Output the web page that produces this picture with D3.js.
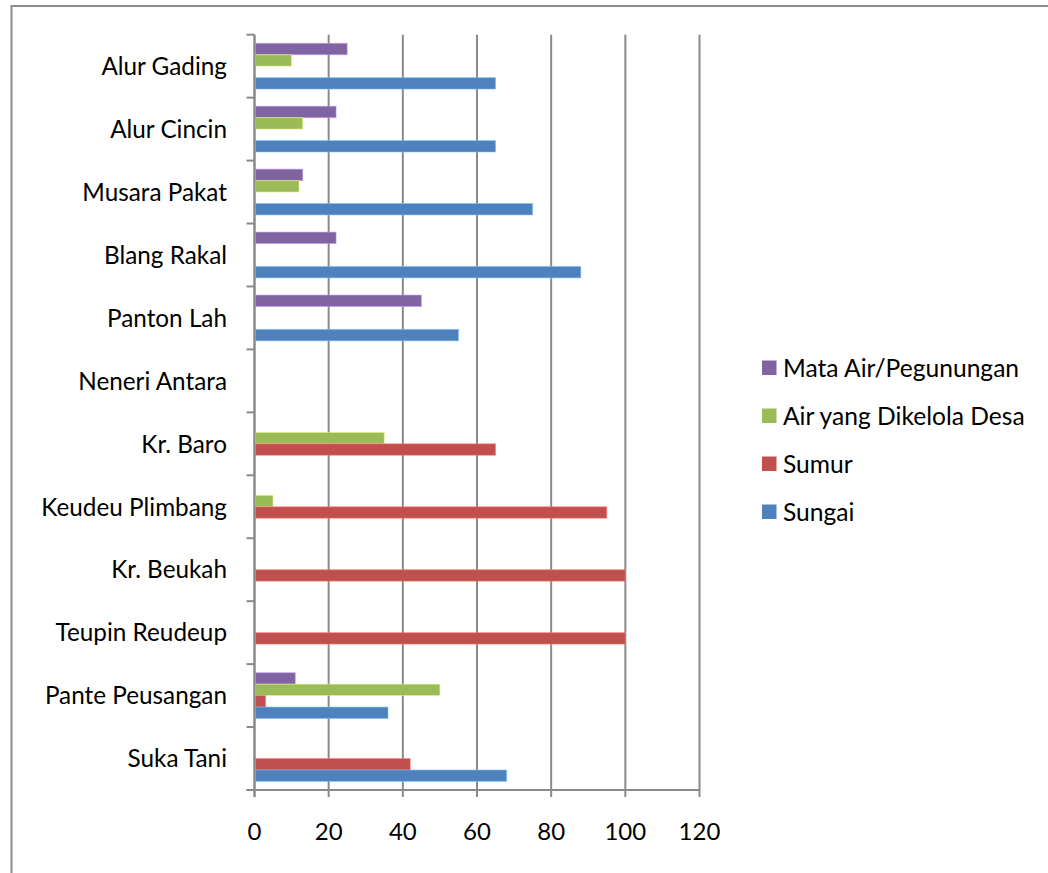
<!DOCTYPE html>
<html>
<head>
<meta charset="utf-8">
<script src="https://cdn.jsdelivr.net/npm/d3@7"></script>
<style>
  html, body { margin: 0; padding: 0; background: #fff; }
  svg { display: block; }
  text { font-family: Lato, "Open Sans", sans-serif; fill: #000; }
</style>
</head>
<body>
<svg id="chart" width="1048" height="873"></svg>
<script>
// Villages, listed top to bottom
const villages = [
  "Alur Gading", "Alur Cincin", "Musara Pakat", "Blang Rakal", "Panton Lah",
  "Neneri Antara", "Kr. Baro", "Keudeu Plimbang", "Kr. Beukah",
  "Teupin Reudeup", "Pante Peusangan", "Suka Tani"
];

// Water sources (legend order)
const sources = ["Mata Air/Pegunungan", "Air yang Dikelola Desa", "Sumur", "Sungai"];
const sourceColors = ["#8064A2", "#9BBB59", "#C0504D", "#4F81BD"];

// Percentage of households per source, one array per source, in village order
const mataAir   = [25, 22, 13, 22, 45, 0, 0, 0, 0, 0, 11, 0];
const airDesa   = [10, 13, 12, 0, 0, 0, 35, 5, 0, 0, 50, 0];
const sumur     = [0, 0, 0, 0, 0, 0, 65, 95, 100, 100, 3, 42];
const sungai    = [65, 65, 75, 88, 55, 0, 0, 0, 0, 0, 36, 68];

const xTicks = [0, 20, 40, 60, 80, 100, 120];

const seriesValues = [mataAir, airDesa, sumur, sungai];

const svg = d3.select("#chart");

// chart frame
svg.append("rect")
  .attr("x", 11.5).attr("y", 6)
  .attr("width", 1100).attr("height", 1000)
  .attr("fill", "none")
  .attr("stroke", "#8c8c8c")
  .attr("stroke-width", 2);

const plot = { left: 254.5, right: 699.5, top: 34.7, bottom: 790 };

const x = d3.scaleLinear().domain([0, 120]).range([plot.left, plot.right]);
const y = d3.scaleBand().domain(villages).range([plot.top, plot.bottom]).padding(0);
const yInner = d3.scaleBand().domain(sources).range([0, y.bandwidth()])
  .paddingInner(0).paddingOuter(0.75);

const gridColor = "#8a8a8a";

// vertical gridlines
svg.append("g")
  .selectAll("line")
  .data(xTicks)
  .join("line")
  .attr("x1", d => x(d)).attr("x2", d => x(d))
  .attr("y1", plot.top).attr("y2", plot.bottom + 7)
  .attr("stroke", gridColor)
  .attr("stroke-width", 2);

// category axis ticks (band boundaries)
const bounds = villages.map(v => y(v)).concat([plot.bottom]);
svg.append("g")
  .selectAll("line")
  .data(bounds)
  .join("line")
  .attr("x1", plot.left - 8).attr("x2", plot.left)
  .attr("y1", d => d).attr("y2", d => d)
  .attr("stroke", gridColor)
  .attr("stroke-width", 2);

// bars
const barData = [];
villages.forEach((v, i) => {
  sources.forEach((s, j) => {
    const val = seriesValues[j][i];
    if (val > 0) barData.push({ village: v, source: s, value: val, color: sourceColors[j] });
  });
});

svg.append("g")
  .selectAll("rect")
  .data(barData)
  .join("rect")
  .attr("x", x(0) + 1)
  .attr("y", d => y(d.village) + yInner(d.source))
  .attr("width", d => x(d.value) - x(0) - 1)
  .attr("height", yInner.bandwidth())
  .attr("fill", d => d.color)
  .attr("stroke", d => d3.color(d.color).brighter(1.2))
  .attr("stroke-opacity", 0.55)
  .attr("stroke-width", 1);

// axes lines
svg.append("line")
  .attr("x1", plot.left).attr("x2", plot.left)
  .attr("y1", plot.top).attr("y2", plot.bottom + 7)
  .attr("stroke", gridColor).attr("stroke-width", 2);
svg.append("line")
  .attr("x1", plot.left - 8).attr("x2", plot.right)
  .attr("y1", plot.bottom).attr("y2", plot.bottom)
  .attr("stroke", gridColor).attr("stroke-width", 2);

// category labels
svg.append("g")
  .selectAll("text")
  .data(villages)
  .join("text")
  .attr("x", 227)
  .attr("y", d => y(d) + y.bandwidth() / 2)
  .attr("dy", "0.36em")
  .attr("text-anchor", "end")
  .attr("font-size", 24.3)
  .text(d => d);

// value tick labels
svg.append("g")
  .selectAll("text")
  .data(xTicks)
  .join("text")
  .attr("x", d => x(d))
  .attr("y", 840)
  .attr("text-anchor", "middle")
  .attr("font-size", 24)
  .text(d => d);

// legend
const legend = svg.append("g")
  .selectAll("g")
  .data(sources)
  .join("g")
  .attr("transform", (d, i) => `translate(762, ${368 + i * 48})`);
legend.append("rect")
  .attr("x", 0).attr("y", -7.5)
  .attr("width", 14.5).attr("height", 14.5)
  .attr("fill", (d, i) => sourceColors[i]);
legend.append("text")
  .attr("x", 21)
  .attr("y", 0)
  .attr("dy", "0.36em")
  .attr("font-size", 24.6)
  .text(d => d);
</script>
</body>
</html>
